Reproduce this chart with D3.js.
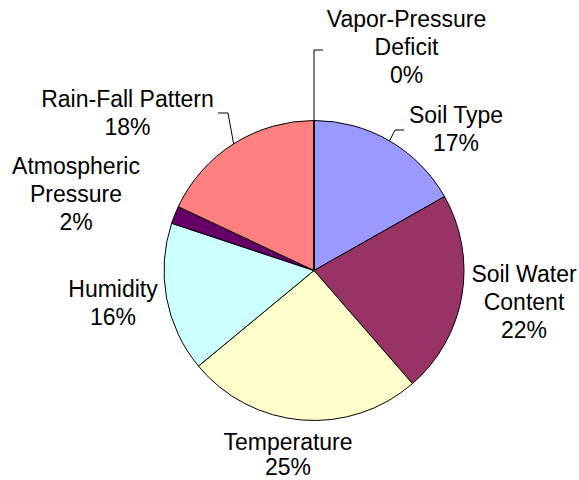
<!DOCTYPE html>
<html>
	<head>
		<meta charset="utf-8">
		<title>factors pie</title>
		<script type="text/javascript" src="https://cdn.jsdelivr.net/npm/d3@7/dist/d3.min.js"></script>
		<style>
			body{margin:0;background:#fff;}
		</style>
	</head>
	<body>
		<script type="text/javascript">
			// share of each factor (percent)
			var categories=['Soil Type','Soil Water Content','Temperature','Humidity',
							'Atmospheric Pressure','Rain-Fall Pattern','Vapor-Pressure Deficit'];
			var values=[16.8, 21.8, 25.4, 16.1, 1.9, 18.0, 0];
			var colors=['#9999ff','#993366','#ffffcc','#ccffff','#660066','#ff8080','#0066cc'];

			// label lines as Excel wrapped them
			var labelLines=[['Soil Type'],['Soil Water','Content'],['Temperature'],['Humidity'],
							['Atmospheric','Pressure'],['Rain-Fall Pattern'],['Vapor-Pressure','Deficit']];

			var w=579;
			var h=480;
			var cx=314, cy=270.5, r=150;

			// where the label block sits: center x, first baseline y, and optional leader bend / end
			var labelLayout=[
				{x:456, y:123, bend:[395,130], end:[404,130]},
				{x:524, y:282},
				{x:288, y:450, gap:25},
				{x:113, y:297},
				{x:76,  y:174},
				{x:127.5, y:107, bend:[228,113], end:[218,113]},
				{x:406.5, y:27, bend:[314,50], end:[323,50]}
			];

			var svg=d3.select('body').append('svg')
					  .attr('width',w)
					  .attr('height',h);

			var pie=d3.pie().sort(null).value(function(d){return d;});
			var arcs=pie(values);
			var total=d3.sum(values);

			var arc=d3.arc().innerRadius(0).outerRadius(r);

			var g=svg.append('g').attr('transform','translate('+cx+','+cy+')');

			g.selectAll('path')
			 .data(arcs)
			 .enter()
			 .append('path')
			 .attr('d',arc)
			 .attr('fill',function(d,i){return colors[i];})
			 .attr('stroke','#000')
			 .attr('stroke-width',1)
			 .attr('stroke-linejoin','round');

			// leader lines start on the rim at the slice's middle angle
			arcs.forEach(function(d,i){
				var L=labelLayout[i];
				if(!L.bend) return;
				var a=(d.startAngle+d.endAngle)/2;
				var sx=cx+r*Math.sin(a), sy=cy-r*Math.cos(a);
				svg.append('polyline')
				   .attr('points',[[sx,sy],L.bend,L.end].map(function(p){return p.join(',');}).join(' '))
				   .attr('fill','none')
				   .attr('stroke','#000')
				   .attr('stroke-width',1);
			});

			var fmt=d3.format('.0%');
			arcs.forEach(function(d,i){
				var L=labelLayout[i];
				var gap=L.gap||28;
				var lines=labelLines[i].concat([fmt(d.value/total)]);
				var t=svg.append('text')
						 .attr('text-anchor','middle')
						 .attr('font-family','Liberation Sans, Arial, sans-serif')
						 .attr('font-size','23px')
						 .attr('fill','#000');
				lines.forEach(function(s,k){
					t.append('tspan')
					 .attr('x',L.x)
					 .attr('y',L.y+k*gap)
					 .text(s);
				});
			});
		</script>
	</body>
</html>
